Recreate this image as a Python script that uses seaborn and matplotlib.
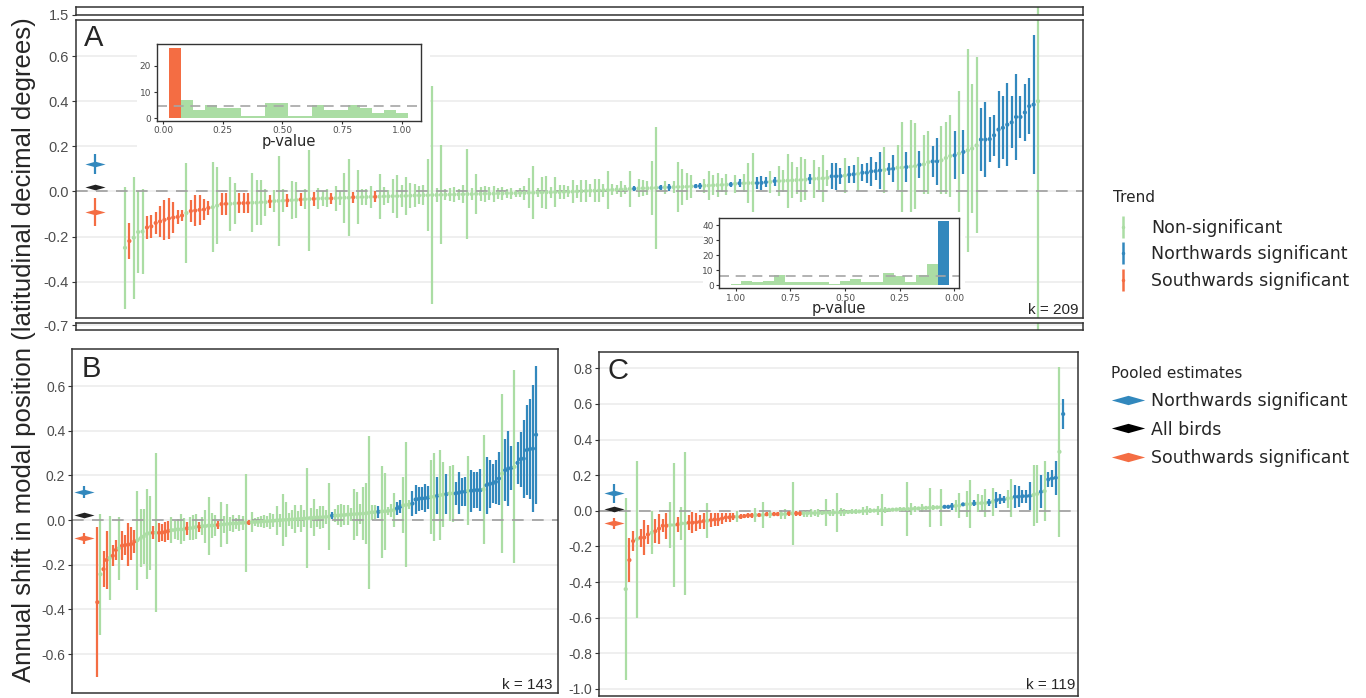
import numpy as np
import pandas as pd
import seaborn as sns
import matplotlib.pyplot as plt
from matplotlib.path import Path
from matplotlib.lines import Line2D
from matplotlib.patches import Rectangle
from matplotlib.legend_handler import HandlerTuple

sns.set_theme(style="white")
plt.rcParams["font.family"] = ["Liberation Sans", "DejaVu Sans"]
plt.rcParams["axes.unicode_minus"] = False

GREEN, BLUE, RED, DARK = "#abdda4", "#3288bd", "#f46d43", "#222222"
PAL = {"n": GREEN, "N": BLUE, "S": RED}

# ---- panel A: all birds (k = 209), sorted estimates, CI half widths, trend code
a_est = [
    -0.25, -0.22, -0.205, -0.18, -0.178, -0.16, -0.155, -0.14, -0.133, -0.126,
    -0.12, -0.116, -0.113, -0.107, -0.096, -0.087, -0.085, -0.082, -0.08, -0.073,
    -0.07, -0.063, -0.056, -0.055, -0.055, -0.053, -0.052, -0.052, -0.051, -0.05,
    -0.05, -0.048, -0.048, -0.044,
    -0.043, -0.042, -0.041, -0.04, -0.039, -0.038, -0.036, -0.035, -0.034, -0.033,
    -0.032, -0.031, -0.031, -0.031, -0.03, -0.029, -0.028, -0.028, -0.026, -0.026,
    -0.025, -0.025, -0.024, -0.024, -0.023, -0.022, -0.022, -0.021, -0.021, -0.02,
    -0.02, -0.019, -0.018, -0.018,
    -0.017, -0.017, -0.016, -0.016, -0.015, -0.015, -0.014, -0.014, -0.013, -0.013,
    -0.012, -0.012, -0.011, -0.011, -0.01, -0.01, -0.01, -0.009, -0.009, -0.008,
    -0.008, -0.008, -0.007, -0.007, -0.006, -0.006, -0.005, -0.005, -0.004, -0.004,
    -0.003, -0.003, -0.002, -0.002, -0.001,
    0.0, 0.001, 0.002, 0.003, 0.003, 0.004, 0.005, 0.006, 0.007, 0.008,
    0.009, 0.01, 0.011, 0.012, 0.013, 0.014, 0.014, 0.015, 0.016, 0.017,
    0.018, 0.018, 0.019, 0.02, 0.02, 0.021, 0.022, 0.023, 0.024, 0.025,
    0.026, 0.027, 0.028, 0.029, 0.03, 0.031,
    0.034, 0.036, 0.036, 0.037, 0.037, 0.037, 0.038, 0.041, 0.042, 0.046,
    0.046, 0.047, 0.048, 0.049, 0.05, 0.051, 0.052, 0.056, 0.056, 0.057,
    0.058, 0.06, 0.067, 0.067, 0.068, 0.07, 0.074, 0.076, 0.078, 0.083,
    0.083, 0.089, 0.09, 0.093, 0.095, 0.099,
    0.1, 0.105, 0.106, 0.108, 0.11, 0.112, 0.118, 0.12, 0.13, 0.133,
    0.133, 0.138, 0.148, 0.157, 0.16, 0.168, 0.175, 0.182, 0.19, 0.204,
    0.23, 0.23, 0.232, 0.249, 0.274, 0.282, 0.296, 0.306, 0.33, 0.33,
    0.35, 0.378, 0.385, 0.4,
]
a_hw = [
    0.27, 0.08, 0.27, 0.18, 0.19, 0.05, 0.05, 0.05, 0.07, 0.09,
    0.09, 0.07, 0.03, 0.025, 0.22, 0.05, 0.07, 0.065, 0.045, 0.03,
    0.2, 0.17, 0.05, 0.05, 0.12, 0.09, 0.045, 0.045, 0.045, 0.13,
    0.1, 0.1, 0.06, 0.03,
    0.05, 0.2, 0.05, 0.03, 0.085, 0.08, 0.03, 0.045, 0.23, 0.03,
    0.045, 0.035, 0.04, 0.025, 0.055, 0.03, 0.11, 0.17, 0.025, 0.12,
    0.035, 0.035, 0.05, 0.025, 0.1, 0.04, 0.03, 0.075, 0.095, 0.05,
    0.085, 0.055, 0.05, 0.04,
    0.045, 0.16, 0.485, 0.03, 0.22, 0.025, 0.03, 0.035, 0.025, 0.04,
    0.2, 0.025, 0.087, 0.03, 0.035, 0.03, 0.035, 0.025, 0.03, 0.02,
    0.025, 0.015, 0.02, 0.03, 0.067, 0.117, 0.02, 0.07, 0.072, 0.025,
    0.065, 0.03, 0.03, 0.025, 0.05,
    0.03, 0.05, 0.05, 0.03, 0.05, 0.05, 0.03, 0.085, 0.025, 0.02,
    0.035, 0.02, 0.08, 0.01, 0.04, 0.035, 0.03, 0.12, 0.27, 0.012,
    0.03, 0.015, 0.025, 0.11, 0.08, 0.06, 0.05, 0.01, 0.015, 0.03,
    0.063, 0.045, 0.055, 0.03, 0.045, 0.012,
    0.04, 0.018, 0.04, 0.087, 0.133, 0.026, 0.03, 0.022, 0.05, 0.02,
    0.065, 0.05, 0.12, 0.08, 0.06, 0.1, 0.09, 0.022, 0.085, 0.05,
    0.105, 0.035, 0.057, 0.06, 0.037, 0.076, 0.037, 0.04, 0.074, 0.037,
    0.044, 0.063, 0.04, 0.083, 0.1, 0.026,
    0.06, 0.1, 0.2, 0.065, 0.207, 0.19, 0.06, 0.13, 0.14, 0.07,
    0.105, 0.15, 0.16, 0.18, 0.107, 0.275, 0.096, 0.45, 0.285, 0.39,
    0.14, 0.165, 0.1, 0.09, 0.17, 0.14, 0.185, 0.115, 0.19, 0.095,
    0.125, 0.125, 0.31, 2.5,
]
a_cat = ("nSnnnSSSSS" "SSSSnSSSSS" "nnSSnnSSSn" "nnnS"
         "nnnSnnSnnS" "nnnSnnnnSn" "nnnSnnnnnn" "nnnn"
         "nnnnnnnnnn" "nnnnnnnnnn" "nnnnnnnnnn" "nnnnn"
         "nnnnnnnnnn" "nnnNnnnnnN" "nNnnnnnNNn" "nnnnnN"
         "nNnnnNNNnN" "nnnnnnnNnn" "nnNNNnNNnN" "NNNNnN"
         "NnnNnnNnnN" "NnnnNnNnnn" "NNNNNNNNNN" "NNNn")

# ---- panel B (k = 143)
b_est = [
    -0.368, -0.243, -0.22, -0.179, -0.17, -0.16, -0.134, -0.126, -0.115, -0.112,
    -0.11, -0.107, -0.095, -0.09, -0.082, -0.074, -0.063, -0.058, -0.057, -0.057,
    -0.057, -0.056, -0.052, -0.048, -0.045, -0.045, -0.042, -0.042, -0.042, -0.037,
    -0.037, -0.034, -0.03, -0.03, -0.027, -0.027, -0.025, -0.025, -0.024, -0.022,
    -0.021, -0.019, -0.018, -0.016, -0.015, -0.015, -0.013, -0.013, -0.012, -0.012,
    -0.01, -0.009, -0.009, -0.007, -0.006, -0.005, -0.004, -0.003, -0.002, -0.001,
    0.0, 0.001, 0.002, 0.003, 0.004, 0.005, 0.006, 0.007, 0.008, 0.009,
    0.01, 0.011, 0.012, 0.013, 0.014, 0.015, 0.02, 0.02, 0.021, 0.022,
    0.023, 0.024, 0.025, 0.026, 0.027, 0.028, 0.029, 0.03, 0.034, 0.035,
    0.036, 0.037, 0.038, 0.039, 0.04, 0.042, 0.045, 0.052, 0.06, 0.066,
    0.068, 0.07, 0.074, 0.092, 0.094, 0.097, 0.097, 0.1, 0.104, 0.104,
    0.109, 0.112, 0.115, 0.116, 0.119, 0.119, 0.119, 0.122, 0.126, 0.127,
    0.131, 0.131, 0.134, 0.134, 0.134, 0.137, 0.156, 0.161, 0.164, 0.171,
    0.186, 0.208, 0.223, 0.231, 0.234, 0.238, 0.256, 0.272, 0.275, 0.313,
    0.317, 0.32, 0.382,
]
b_hw = [
    0.336, 0.27, 0.08, 0.132, 0.19, 0.048, 0.046, 0.141, 0.064, 0.045,
    0.095, 0.074, 0.052, 0.222, 0.13, 0.123, 0.2, 0.165, 0.03, 0.355,
    0.042, 0.039, 0.045, 0.042, 0.057, 0.042, 0.047, 0.067, 0.052, 0.03,
    0.052, 0.057, 0.057, 0.022, 0.041, 0.074, 0.13, 0.056, 0.048, 0.017,
    0.101, 0.037, 0.089, 0.031, 0.037, 0.026, 0.037, 0.03, 0.22, 0.011,
    0.045, 0.018, 0.022, 0.025, 0.03, 0.025, 0.037, 0.03, 0.063, 0.03,
    0.116, 0.078, 0.03, 0.042, 0.063, 0.035, 0.06, 0.04, 0.225, 0.045,
    0.082, 0.04, 0.052, 0.05, 0.03, 0.15, 0.016, 0.03, 0.045, 0.052,
    0.045, 0.045, 0.03, 0.115, 0.1, 0.045, 0.117, 0.138, 0.342, 0.034,
    0.03, 0.026, 0.206, 0.171, 0.019, 0.03, 0.074, 0.03, 0.03, 0.126,
    0.28, 0.02, 0.058, 0.063, 0.052, 0.05, 0.063, 0.052, 0.165, 0.197,
    0.082, 0.202, 0.145, 0.089, 0.123, 0.126, 0.052, 0.094, 0.061, 0.065,
    0.155, 0.093, 0.082, 0.08, 0.094, 0.245, 0.127, 0.109, 0.086, 0.097,
    0.12, 0.357, 0.139, 0.167, 0.098, 0.432, 0.093, 0.123, 0.175, 0.2,
    0.223, 0.285, 0.31,
]
b_cat = ("SnSSnSSnSS" "SSSnnnnnSn" "SSSSnnnnnS" "nnnSnnnnnS" "nnnnnnnnnS"
         "nnnnnnnnnn" "nnnnnnnnnn" "nnnnnnNnnn" "nnnnnnnnnn" "nNnnnnnNNn"
         "nnNNNNNNnn" "NnnNnnNNNN" "nNNNNnNNNN" "NnNNNnNNNN" "NNN")

# ---- panel C (k = 119)
c_est = [
    -0.44, -0.277, -0.17, -0.16, -0.152, -0.15, -0.133, -0.124, -0.114, -0.1,
    -0.084, -0.084, -0.08, -0.08, -0.077, -0.071, -0.071, -0.067, -0.067, -0.065,
    -0.062, -0.058, -0.056, -0.052, -0.049, -0.049, -0.043, -0.037, -0.037, -0.034,
    -0.034, -0.034, -0.03, -0.026, -0.026, -0.024, -0.024, -0.024, -0.02, -0.02,
    -0.019, -0.019, -0.019, -0.019, -0.015, -0.015, -0.015, -0.015, -0.014, -0.014,
    -0.013, -0.013, -0.012, -0.012, -0.011, -0.011, -0.01, -0.01, -0.009, -0.008,
    -0.007, -0.006, -0.005, -0.004, -0.002, -0.001, 0.0, 0.001, 0.002, 0.003,
    0.004, 0.005, 0.006, 0.007, 0.008, 0.009, 0.01, 0.011, 0.012, 0.013,
    0.015, 0.016, 0.017, 0.018, 0.019, 0.02, 0.022, 0.022, 0.026, 0.027,
    0.029, 0.036, 0.037, 0.038, 0.041, 0.042, 0.043, 0.044, 0.047, 0.05,
    0.06, 0.064, 0.064, 0.068, 0.072, 0.079, 0.079, 0.082, 0.082, 0.084,
    0.088, 0.095, 0.107, 0.11, 0.176, 0.182, 0.185, 0.331, 0.543,
]
c_hw = [
    0.512, 0.125, 0.056, 0.442, 0.049, 0.098, 0.051, 0.12, 0.066, 0.084,
    0.037, 0.072, 0.129, 0.348, 0.042, 0.094, 0.402, 0.042, 0.058, 0.051,
    0.04, 0.047, 0.098, 0.039, 0.037, 0.035, 0.03, 0.025, 0.025, 0.02,
    0.03, 0.015, 0.012, 0.012, 0.012, 0.037, 0.012, 0.072, 0.012, 0.02,
    0.012, 0.012, 0.025, 0.03, 0.012, 0.177, 0.012, 0.012, 0.02, 0.02,
    0.021, 0.017, 0.024, 0.014, 0.077, 0.017, 0.021, 0.108, 0.023, 0.02,
    0.01, 0.015, 0.015, 0.008, 0.023, 0.025, 0.013, 0.01, 0.027, 0.091,
    0.017, 0.008, 0.008, 0.007, 0.011, 0.009, 0.152, 0.035, 0.017, 0.007,
    0.021, 0.012, 0.108, 0.016, 0.01, 0.103, 0.006, 0.006, 0.019, 0.035,
    0.07, 0.01, 0.073, 0.134, 0.017, 0.05, 0.045, 0.08, 0.018, 0.08,
    0.047, 0.028, 0.019, 0.05, 0.105, 0.063, 0.058, 0.037, 0.037, 0.077,
    0.171, 0.164, 0.094, 0.17, 0.04, 0.047, 0.094, 0.478, 0.084,
]
c_cat = ("nSSnSSSnSS" "SSnnSnnSSS" "SSnSSSSSSS" "nSSSSnSnSn" "SSnnSnSSnn"
         "nnnnnnnnnn" "nnnnnnnnnn" "nnnnnnnnnn" "nnnnnnNNNn" "nNnnNnnnNn"
         "NNNnnNNNNN" "nnNnNNNnN")

# pooled estimates: northwards, all birds, southwards
a_pool, a_pool_hw = [0.123, 0.02, -0.09], [0.044, 0.005, 0.062]
b_pool, b_pool_hw = [0.126, 0.022, -0.082], [0.028, 0.004, 0.025]
c_pool, c_pool_hw = [0.097, 0.008, -0.071], [0.051, 0.004, 0.033]

# p-value histograms (bin centres, counts)
p_mid = [0.05, 0.10, 0.15, 0.20, 0.25, 0.30, 0.35, 0.40, 0.45, 0.50,
         0.55, 0.60, 0.65, 0.70, 0.75, 0.80, 0.85, 0.90, 0.95, 1.00]
south_counts = [27, 7, 3, 5, 4, 4, 1, 1, 6, 6, 1, 1, 5, 3, 3, 5, 4, 2, 3, 2]
north_counts = [43, 14, 7, 2, 6, 8, 2, 2, 4, 3, 1, 2, 2, 2, 2, 7, 3, 2, 3, 1]

W, H = 1366, 698
fig = plt.figure(figsize=(W / 100, H / 100), dpi=100)


def add_ax(l, t, r, b, z=0):
    return fig.add_axes([l / W, 1 - b / H, (r - l) / W, (b - t) / H], zorder=z)


DIAMOND = Path([(-1, 0), (0, 0.28), (1, 0), (0, -0.28), (-1, 0)],
               [Path.MOVETO, Path.LINETO, Path.LINETO, Path.LINETO, Path.CLOSEPOLY])


def forest(ax, est, hw, cat, pool, pool_hw, pool_x):
    df = pd.DataFrame({"rank": np.arange(1, len(est) + 1), "est": est,
                       "hw": hw, "trend": list(cat)})
    df["lo"] = df.est - df.hw
    df["hi"] = df.est + df.hw
    for t in ["n", "N", "S"]:
        d = df[df.trend == t]
        ax.vlines(d["rank"], d.lo, d.hi, color=PAL[t], lw=1.6, zorder=2)
    ax.axhline(0, color="#9e9e9e", lw=1.2, dashes=(7, 5), zorder=2.5)
    sns.scatterplot(data=df, x="rank", y="est", hue="trend", palette=PAL,
                    s=9, linewidth=0, legend=False, ax=ax, zorder=3)
    for v, w, c in zip(pool, pool_hw, [BLUE, DARK, RED]):
        ax.vlines(pool_x, v - w, v + w, color=c, lw=1.6, zorder=3)
        ax.plot([pool_x], [v], marker=DIAMOND, ms=14.5, color=c, mew=0,
                ls="none", zorder=4)


def style(ax, ticks, size, xlim, ylim):
    ax.set_xlim(*xlim)
    ax.set_ylim(*ylim)
    ax.set_yticks(ticks)
    ax.set_yticklabels([f"{t:.1f}" for t in ticks])
    ax.set_xticks([])
    ax.set_xlabel("")
    ax.set_ylabel("")
    ax.yaxis.grid(True, color="#ebebeb", lw=1.1)
    ax.set_axisbelow(True)
    ax.tick_params(axis="y", left=True, length=3, width=0.8, color="#333333",
                   labelcolor="#4d4d4d", labelsize=size, pad=2)
    for s in ax.spines.values():
        s.set_color("#333333")
        s.set_linewidth(1.1)


# ---- panel A with broken axis
a_xlim = (-10.16, 219.25)
ax_top = add_ax(76, 7.3, 1083, 15)
ax_a = add_ax(76, 20, 1083, 317.7)
ax_bot = add_ax(76, 322.7, 1083, 330)
for ax in (ax_top, ax_a, ax_bot):
    forest(ax, a_est, a_hw, a_cat, a_pool, a_pool_hw, -5.84)
style(ax_top, [1.5], 10.5, a_xlim, (1.499, 1.53))
style(ax_a, [-0.4, -0.2, 0.0, 0.2, 0.4, 0.6], 10.5, a_xlim, (-0.56, 0.76))
style(ax_bot, [-0.7], 10.5, a_xlim, (-0.72, -0.69))
ax_a.text(0.008, 0.9127, "A", transform=ax_a.transAxes, fontsize=21, va="baseline")
ax_a.text(0.9953, 0.0114, "k = 209", transform=ax_a.transAxes, fontsize=11,
          ha="right", va="baseline")

# ---- panel B
ax_b = add_ax(72.3, 349, 558.3, 693.3)
forest(ax_b, b_est, b_hw, b_cat, b_pool, b_pool_hw, -3.2)
style(ax_b, [-0.6, -0.4, -0.2, 0.0, 0.2, 0.4, 0.6], 10, (-7.1, 150.2), (-0.776, 0.766))
ax_b.text(0.019, 0.918, "B", transform=ax_b.transAxes, fontsize=21, va="baseline")
ax_b.text(0.9885, 0.0116, "k = 143", transform=ax_b.transAxes, fontsize=11,
          ha="right", va="baseline")

# ---- panel C
ax_c = add_ax(599.3, 351.7, 1078, 696)
forest(ax_c, c_est, c_hw, c_cat, c_pool, c_pool_hw, -2.15)
style(ax_c, [-1.0, -0.8, -0.6, -0.4, -0.2, 0.0, 0.2, 0.4, 0.6, 0.8], 10,
      (-6.12, 123.0), (-1.04, 0.893))
ax_c.text(0.017, 0.921, "C", transform=ax_c.transAxes, fontsize=21, va="baseline")
ax_c.text(0.995, 0.0195, "k = 119", transform=ax_c.transAxes, fontsize=11,
          ha="right", va="baseline")


# ---- p-value insets
def inset(ax, counts, sig_color, xlim, ylim, yticks):
    df = pd.DataFrame({"p": p_mid, "n": counts})
    df["sig"] = np.where(df.p <= 0.05, "sig", "ns")
    sns.histplot(data=df, x="p", weights="n", hue="sig",
                 palette={"sig": sig_color, "ns": GREEN},
                 binwidth=0.05, binrange=(0.025, 1.025), alpha=1, linewidth=0,
                 legend=False, ax=ax)
    ax.axhline(np.mean(counts), color="#a6a6a6", lw=1.2, dashes=(6, 4))
    ax.set_xlim(*xlim)
    ax.set_ylim(*ylim)
    ax.set_xticks([0, 0.25, 0.5, 0.75, 1.0])
    ax.set_xticklabels(["0.00", "0.25", "0.50", "0.75", "1.00"])
    ax.set_yticks(yticks)
    ax.set_ylabel("")
    ax.set_xlabel("p-value", fontsize=10.5, family="DejaVu Sans", labelpad=-1)
    ax.tick_params(left=True, bottom=True, length=2.5, width=0.8, color="#333333",
                   labelcolor="#4d4d4d", labelsize=6.5, pad=1.5)
    for lab in ax.get_xticklabels() + ax.get_yticklabels():
        lab.set_family("DejaVu Sans")
    for s in ax.spines.values():
        s.set_color("#333333")
        s.set_linewidth(1.0)


fig.add_artist(Rectangle((137 / W, 1 - 150 / H), 293 / W, 112 / H,
                         transform=fig.transFigure, facecolor="white",
                         edgecolor="none", zorder=1))
fig.add_artist(Rectangle((703 / W, 1 - 316 / H), 262 / W, 104 / H,
                         transform=fig.transFigure, facecolor="white",
                         edgecolor="none", zorder=1))
ax_i1 = add_ax(156.7, 44, 420.7, 120.7, z=2)
inset(ax_i1, south_counts, RED, (-0.0277, 1.0804), (-0.95, 28.4), [0, 10, 20])
ax_i2 = add_ax(719.3, 218.3, 959.3, 288.3, z=2)
inset(ax_i2, north_counts, BLUE, (1.0766, -0.0243), (-2.2, 44.5), [0, 10, 20, 30, 40])

# ---- shared y label
fig.text(24 / W, 1 - 350 / H,
         "Annual shift in modal position (latitudinal decimal degrees)",
         rotation=90, ha="center", va="center", fontsize=18.5)

# ---- legends
leg_font = {"family": "DejaVu Sans", "size": 12.5}
title_font = {"family": "DejaVu Sans", "size": 11}
trend_handles = [
    (Line2D([], [], color=c, marker="|", ms=16, mew=1.8, ls="none"),
     Line2D([], [], color=c, marker="o", ms=2.5, mew=0, ls="none"))
    for c in [GREEN, BLUE, RED]
]
leg1 = fig.legend(trend_handles, ["Non-significant", "Northwards significant",
                                  "Southwards significant"],
                  title="Trend", loc="upper left",
                  bbox_to_anchor=(1113 / W, 1 - 190 / H),
                  frameon=False, prop=leg_font, title_fontproperties=title_font,
                  alignment="left", handlelength=1.2, handletextpad=1.0,
                  labelspacing=0.5, borderpad=0, borderaxespad=0,
                  handler_map={tuple: HandlerTuple(ndivide=1)})
leg1._legend_box.sep += 3.6
pool_handles = [Line2D([], [], color=c, marker=DIAMOND, ms=24, mew=0, ls="none")
                for c in [BLUE, "black", RED]]
fig.legend(pool_handles, ["Northwards significant", "All birds",
                          "Southwards significant"],
           title="Pooled estimates", loc="upper left",
           bbox_to_anchor=(1111 / W, 1 - 366 / H), frameon=False, prop=leg_font,
           title_fontproperties=title_font, alignment="left", handlelength=2.0,
           handletextpad=0.3, labelspacing=0.62, borderpad=0, borderaxespad=0)

fig.savefig("out.png", dpi=100)
